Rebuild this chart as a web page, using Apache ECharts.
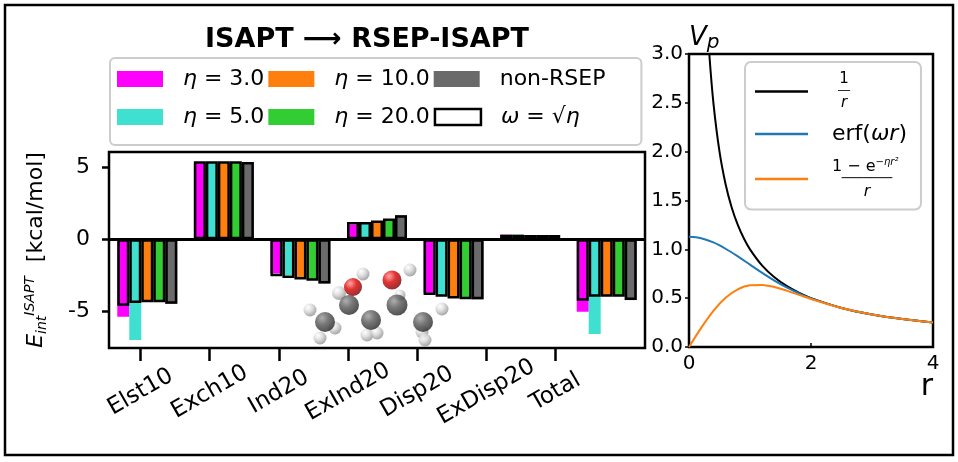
<!DOCTYPE html>
<html>
<head>
<meta charset="utf-8">
<script src="https://cdn.jsdelivr.net/npm/echarts@6/dist/echarts.min.js"></script>
<style>
  html, body { margin: 0; padding: 0; background: #fff; }
  #chart { width: 958px; height: 462px; }
</style>
</head>
<body>
<div id="chart"></div>
<script>
// ---- bar panel data ----
const categories = ['Elst10', 'Exch10', 'Ind20', 'ExInd20', 'Disp20', 'ExDisp20', 'Total']
// filled bars (eta)
const eta3 = [-5.42, 5.32, -2.39, 1.02, -3.74, 0.32, -5.07]
const eta5 = [-7.04, 5.32, -2.51, 1.14, -3.90, 0.32, -6.62]
const eta10 = [-4.25, 5.32, -2.67, 1.20, -4.02, 0.30, -3.90]
const eta20 = [-4.30, 5.32, -2.81, 1.39, -4.07, 0.30, -3.95]
const nonRsep = [-4.50, 5.40, -3.09, 1.68, -4.20, 0.30, -4.25]
// outlined bars (omega = sqrt(eta))
const omega3 = [-4.65, 5.45, -2.58, 1.20, -3.90, 0.32, -4.30]
const omega5 = [-4.45, 5.45, -2.70, 1.20, -4.02, 0.32, -4.02]
const omega10 = [-4.40, 5.45, -2.81, 1.32, -4.14, 0.30, -4.02]
const omega20 = [-4.40, 5.45, -2.90, 1.46, -4.20, 0.30, -4.02]
const omegaNon = [-4.50, 5.40, -3.09, 1.68, -4.20, 0.30, -4.25]
const yTicks = [-5, 0, 5]

// ---- potential panel data ----
const invR_r = [0.333, 0.4, 0.5, 0.6, 0.7, 0.8, 0.9, 1.0, 1.2, 1.4, 1.6, 1.8, 2.0, 2.5, 3.0, 3.5, 4.0]
const invR_v = [3.0, 2.5, 2.0, 1.667, 1.429, 1.25, 1.111, 1.0, 0.833, 0.714, 0.625, 0.556, 0.5, 0.4, 0.333, 0.286, 0.25]
const erf_r = [0, 0.2, 0.4, 0.6, 0.8, 1.0, 1.2, 1.4, 1.6, 1.8, 2.0, 2.5, 3.0, 3.5, 4.0]
const erf_v = [1.128, 1.114, 1.071, 1.006, 0.928, 0.843, 0.759, 0.680, 0.610, 0.550, 0.498, 0.400, 0.333, 0.286, 0.25]
const gau_r = [0, 0.2, 0.4, 0.6, 0.8, 1.0, 1.2, 1.4, 1.6, 1.8, 2.0, 2.5, 3.0, 3.5, 4.0]
const gau_v = [0, 0.196, 0.370, 0.504, 0.591, 0.632, 0.636, 0.614, 0.577, 0.534, 0.491, 0.399, 0.333, 0.286, 0.25]

// ---- molecule sketch (x, y, diameter) ----
const atomsH = [[73, 14, 13], [49, 33, 14], [20, 50, 13], [45, 68, 13], [30, 78, 13],
  [77, 75, 13], [87, 73, 13], [120, 10, 13], [110, 35, 11], [152, 49, 13], [132, 72, 13], [135, 80, 13]]
const atomsC = [[59, 45, 20], [35, 62, 20], [81, 60, 20], [107, 45, 21], [133, 62, 20]]
const atomsO = [[63, 27, 18], [102, 20, 19]]

const FONT = 'DejaVu Sans'
const pair = (xs, ys) => xs.map((x, i) => [x, ys[i]])

const chart = echarts.init(document.getElementById('chart'))

function fillBar(name, data, color) {
  return {
    name: name, type: 'bar', xAxisIndex: 0, yAxisIndex: 0,
    barWidth: 12, barGap: '0%', data: data,
    itemStyle: { color: color }, z: 2
  }
}
function outlineBar(data) {
  return {
    name: 'ω = √η', type: 'bar', xAxisIndex: 1, yAxisIndex: 0,
    barWidth: 12, barGap: '0%', data: data,
    itemStyle: { color: 'rgba(0,0,0,0)', borderColor: '#000', borderWidth: 2.5 }, z: 3
  }
}
function atomSeries(data, c0, c1, c2) {
  return {
    type: 'scatter', xAxisIndex: 4, yAxisIndex: 3, silent: true,
    data: data, symbolSize: d => d[2],
    itemStyle: {
      color: { type: 'radial', x: 0.35, y: 0.3, r: 0.75,
        colorStops: [{ offset: 0, color: c0 }, { offset: 0.45, color: c1 }, { offset: 1, color: c2 }] }
    },
    z: 4
  }
}

const fillSeries = [
  fillBar('η = 3.0', eta3, '#ff00ff'),
  fillBar('η = 5.0', eta5, '#40e0d0'),
  fillBar('η = 10.0', eta10, '#ff7f0e'),
  fillBar('η = 20.0', eta20, '#32cd32'),
  fillBar('non-RSEP', nonRsep, '#6a6a6a')
]
fillSeries[0].markLine = {
  silent: true, symbol: 'none', label: { show: false },
  lineStyle: { color: '#000', width: 3, type: 'solid' },
  data: [{ yAxis: 0 }], z: 5
}

const option = {
  backgroundColor: '#fff',
  animation: false,
  textStyle: { fontFamily: FONT, color: '#000' },
  title: {
    text: 'ISAPT ⟶ RSEP-ISAPT',
    left: 362, top: 21, textAlign: 'center',
    textStyle: { fontFamily: FONT, fontSize: 27, fontWeight: 'bold', color: '#000' }
  },
  graphic: [{
    type: 'rect', shape: { x: 5, y: 5, width: 948, height: 450 },
    style: { fill: 'none', stroke: '#000', lineWidth: 2.5 }, z: 0, silent: true
  }],
  legend: [{
    left: 110, top: 58, width: 520,
    padding: [4, 36, 11, 7], itemGap: 4,
    itemWidth: 46, itemHeight: 16,
    borderColor: '#cccccc', borderWidth: 2, borderRadius: 5,
    data: [
      { name: 'η = 3.0', icon: 'rect' }, { name: 'η = 10.0', icon: 'rect' }, { name: 'non-RSEP', icon: 'rect' },
      { name: 'η = 5.0', icon: 'rect' }, { name: 'η = 20.0', icon: 'rect' },
      { name: 'ω = √η', icon: 'rect', itemStyle: { color: '#fff', borderColor: '#000', borderWidth: 2.5 } }
    ],
    formatter: name => {
      if (name.startsWith('η')) return '{i|η}{t|' + name.slice(1) + '}'
      if (name.startsWith('ω')) return '{i|ω}{t| = √}{i|η}'
      return '{t|' + name + '}'
    },
    textStyle: {
      fontFamily: FONT, fontSize: 22, color: '#000', lineHeight: 34, padding: [0, 0, 0, 15],
      rich: {
        i: { fontFamily: FONT, fontSize: 22, fontStyle: 'italic', lineHeight: 34 },
        t: { fontFamily: FONT, fontSize: 22, lineHeight: 34 }
      }
    }
  }, {
    left: 745, top: 62, orient: 'vertical',
    padding: [10, 14, 10, 10], itemGap: 12,
    itemWidth: 53, itemHeight: 2.5,
    borderColor: '#cccccc', borderWidth: 2, borderRadius: 6,
    data: [{ name: '1/r', icon: 'rect' }, { name: 'erf(ωr)', icon: 'rect' }, { name: 'gauss', icon: 'rect' }],
    formatter: name => {
      if (name === '1/r') return '{fn|1}\n{fb|──}\n{fd|r}'
      if (name === 'erf(ωr)') return '{t|erf(}{i|ωr}{t|)}'
      return '{gn|1 − e}{gs|−ηr²}\n{gb|───────}\n{gd|r}'
    },
    textStyle: {
      fontFamily: FONT, color: '#000', padding: [0, 0, 0, 19],
      rich: {
        fn: { fontSize: 15, width: 24, align: 'center', lineHeight: 17 },
        fb: { fontSize: 10, width: 24, align: 'center', lineHeight: 7 },
        fd: { fontSize: 15, fontStyle: 'italic', width: 24, align: 'center', lineHeight: 17 },
        t: { fontSize: 22, lineHeight: 40 },
        i: { fontSize: 22, fontStyle: 'italic', lineHeight: 40 },
        gn: { fontSize: 16, lineHeight: 19 },
        gs: { fontSize: 10, fontStyle: 'italic', verticalAlign: 'top', lineHeight: 19 },
        gb: { fontSize: 12, width: 70, align: 'center', lineHeight: 6 },
        gd: { fontSize: 16, fontStyle: 'italic', width: 70, align: 'center', lineHeight: 19 }
      }
    }
  }],
  grid: [
    { left: 109, right: 313, top: 152, bottom: 114, show: true, borderColor: '#000', borderWidth: 2.5, backgroundColor: 'rgba(0,0,0,0)' },
    { left: 106, width: 484, top: 152, bottom: 114 },
    { left: 689, right: 25, top: 54, bottom: 115, show: true, borderColor: '#000', borderWidth: 2.5, backgroundColor: 'rgba(0,0,0,0)' },
    { left: 290, top: 260, width: 170, height: 90 }
  ],
  xAxis: [
    { type: 'category', gridIndex: 0, data: categories, boundaryGap: true,
      axisLine: { show: false }, axisTick: { show: false }, axisLabel: { show: false } },
    { type: 'category', gridIndex: 0, data: categories, boundaryGap: true, show: false },
    { type: 'category', gridIndex: 1, data: categories, boundaryGap: true,
      axisLine: { show: true, lineStyle: { color: 'rgba(0,0,0,0)' } },
      axisTick: { show: true, alignWithLabel: true, length: 13, lineStyle: { color: '#000', width: 2.5 } },
      axisLabel: { rotate: 30, align: 'center', verticalAlign: 'middle', margin: 44, fontSize: 23, color: '#000', fontFamily: FONT } },
    { type: 'value', gridIndex: 2, min: 0, max: 4, interval: 2,
      name: 'r', nameLocation: 'end', nameGap: 0, nameMoveOverlap: false,
      nameTextStyle: { fontFamily: FONT, fontSize: 30, color: '#000', align: 'right', verticalAlign: 'top', padding: [25, 0, 0, 0] },
      axisLine: { show: false }, splitLine: { show: false },
      axisTick: { inside: true, length: 4, lineStyle: { color: '#000', width: 1.5 } },
      axisLabel: { fontSize: 20, color: '#000', margin: 7, fontFamily: FONT } },
    { type: 'value', gridIndex: 3, min: 0, max: 170, show: false }
  ],
  yAxis: [
    { type: 'value', gridIndex: 0, min: -7.6, max: 6.1,
      name: '{e|E}{b|int}{s|ISAPT}{t|  [kcal/mol]}',
      nameLocation: 'middle', nameGap: 60, nameRotate: 90,
      nameTextStyle: {
        fontFamily: FONT, color: '#000',
        rich: {
          e: { fontSize: 22, fontStyle: 'italic' },
          b: { fontSize: 14, fontStyle: 'italic', verticalAlign: 'bottom', lineHeight: 26 },
          s: { fontSize: 14, fontStyle: 'italic', verticalAlign: 'top', lineHeight: 26 },
          t: { fontSize: 22 }
        }
      },
      axisLine: { show: false }, splitLine: { show: false },
      axisTick: { show: true, length: 7, customValues: yTicks, lineStyle: { color: '#000', width: 2.5 } },
      axisLabel: { fontSize: 22, color: '#000', margin: 19, customValues: yTicks, fontFamily: FONT } },
    { type: 'value', gridIndex: 1, show: false },
    { type: 'value', gridIndex: 2, min: 0, max: 3, interval: 0.5,
      name: '{v|V}{p|p}', nameLocation: 'end', nameGap: 1, nameMoveOverlap: false,
      nameTextStyle: {
        align: 'left', verticalAlign: 'bottom', fontFamily: FONT, color: '#000',
        rich: {
          v: { fontSize: 26, fontStyle: 'italic', lineHeight: 30 },
          p: { fontSize: 20, fontStyle: 'italic', verticalAlign: 'bottom', lineHeight: 30 }
        }
      },
      axisLine: { show: false }, splitLine: { show: false },
      axisTick: { length: 4, lineStyle: { color: '#000', width: 1.5 } },
      axisLabel: { fontSize: 20, color: '#000', margin: 6, formatter: v => v.toFixed(1), fontFamily: FONT } },
    { type: 'value', gridIndex: 3, min: 0, max: 90, inverse: true, show: false }
  ],
  series: [
    ...fillSeries,
    outlineBar(omega3), outlineBar(omega5), outlineBar(omega10), outlineBar(omega20), outlineBar(omegaNon),
    { name: '1/r', type: 'line', xAxisIndex: 3, yAxisIndex: 2, data: pair(invR_r, invR_v),
      smooth: 0.35, showSymbol: false, clip: true, color: '#000', lineStyle: { width: 2 } },
    { name: 'erf(ωr)', type: 'line', xAxisIndex: 3, yAxisIndex: 2, data: pair(erf_r, erf_v),
      smooth: 0.35, showSymbol: false, clip: true, color: '#1f77b4', lineStyle: { width: 2 } },
    { name: 'gauss', type: 'line', xAxisIndex: 3, yAxisIndex: 2, data: pair(gau_r, gau_v),
      smooth: 0.35, showSymbol: false, clip: true, color: '#ff7f0e', lineStyle: { width: 2 } },
    atomSeries(atomsH, '#ffffff', '#d6d6d6', '#8a8a8a'),
    atomSeries(atomsC, '#9a9a9a', '#555555', '#222222'),
    atomSeries(atomsO, '#ff9090', '#dd0000', '#700000')
  ]
}
chart.setOption(option)
</script>
</body>
</html>
